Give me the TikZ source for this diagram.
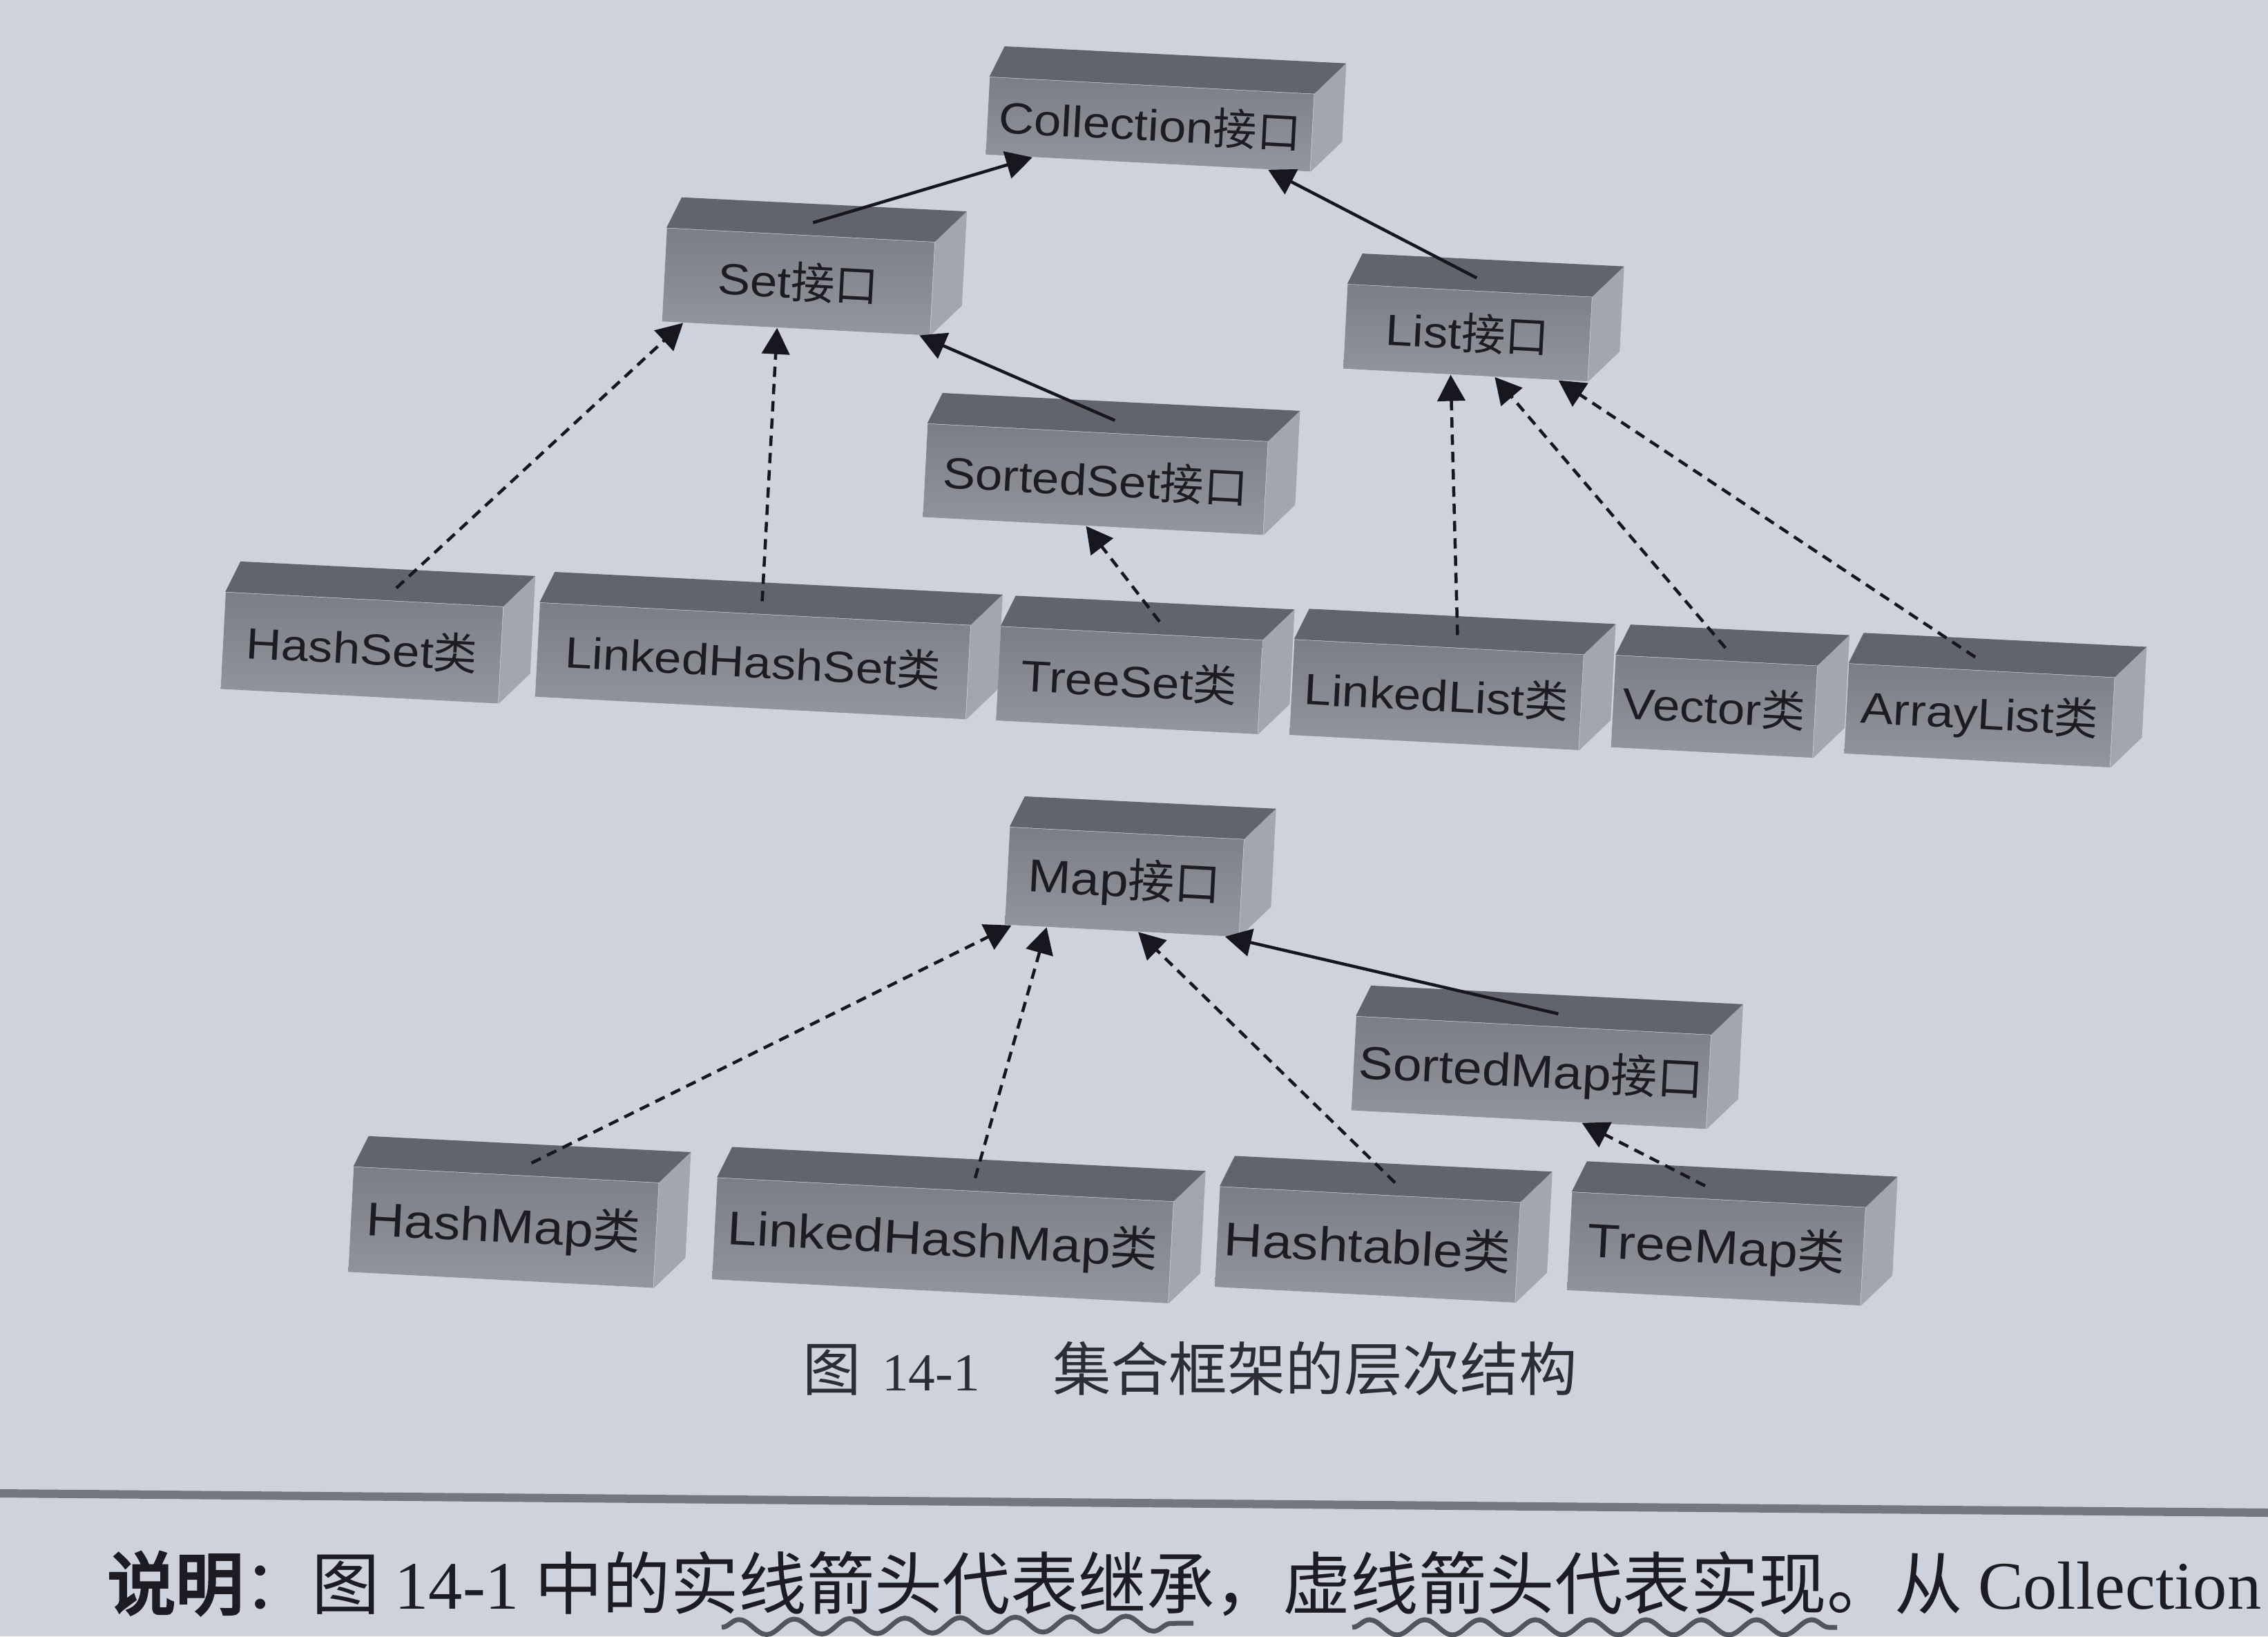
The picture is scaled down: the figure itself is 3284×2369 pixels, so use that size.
\documentclass[tikz,border=0pt]{standalone}
\usepackage{fontspec}
\usetikzlibrary{calc,arrows.meta,decorations.pathmorphing}
\setmainfont{Liberation Sans}
\newfontfamily\boxlat{Liberation Sans}[FakeStretch=1.12]
\newfontfamily\cjk{Noto Sans CJK SC}
\newfontfamily\cjkb{Noto Sans CJK SC}[FakeBold=4]
\newfontfamily\serifx{Liberation Serif}
\definecolor{paper}{RGB}{206,210,221}
\definecolor{frontc}{RGB}{140,142,149}
\definecolor{fronttop}{RGB}{124,126,134}
\definecolor{frontbot}{RGB}{148,150,157}
\definecolor{topc}{RGB}{98,100,108}
\definecolor{sidec}{RGB}{163,166,173}
\definecolor{inkc}{RGB}{28,28,34}
\definecolor{capc}{RGB}{45,46,52}
\definecolor{arrowc}{RGB}{22,22,28}
\definecolor{rulec}{RGB}{115,119,129}
\definecolor{pencil}{RGB}{80,85,95}
\newdimen\pxu \pxu=0.01cm
\def\bdl{22}\def\bdx{46}\def\bdh{44}
\newcommand{\jkou}{{\cjk 接口}}
\newcommand{\leic}{{\cjk 类}}
\newcommand{\boxthree}[7]{%
  \node[front,#6,minimum width=#4\pxu,minimum height=#5\pxu] (#1) at (#2,#3) {#7};
  \fill[topc] (#1.north west) -- ($(#1.north west)+(\bdl,-\bdh)$) -- ($(#1.north east)+(\bdx,-\bdh)$) -- (#1.north east) -- cycle;
  \fill[sidec] (#1.north east) -- ($(#1.north east)+(\bdx,-\bdh)$) -- ($(#1.south east)+(\bdx,-\bdh)$) -- (#1.south east) -- cycle;
}
\newcommand{\linkit}[5]{%
  \draw[#1] ($(#2.north west)!#3!(#2.north east)+(10,-18)$) -- ($(#4.south west)!#5!(#4.south east)$);
}
\tikzset{
  front/.style={top color=fronttop, bottom color=frontbot, rotate=-3, inner sep=0pt, text=inkc, font=\boxlat\fontsize{18pt}{20pt}\selectfont},
  midf/.style={font=\boxlat\fontsize{19pt}{21pt}\selectfont},
  bigf/.style={font=\boxlat\fontsize{19.5pt}{22pt}\selectfont},
  inh/.style={line width=0.045cm, draw=arrowc, -{Triangle[length=0.38cm,width=0.40cm]}},
  impl/.style={inh, dash pattern=on 0.15cm off 0.10cm},
}
\begin{document}
\begin{tikzpicture}[x=0.01cm,y=-0.01cm]
\useasboundingbox (0,0) rectangle (3284,2369);
\fill[paper] (0,0) rectangle (3284,2369);
% boxes
\boxthree{col}{1665}{180}{470}{112}{}{Collection\jkou}
\boxthree{set}{1156}{408}{388}{135}{}{Set\jkou}
\boxthree{list}{2125}{482}{354}{122}{}{List\jkou}
\boxthree{sset}{1586}{694}{493}{135}{}{SortedSet\jkou}
\boxthree{hset}{524}{938}{402}{140}{}{HashSet\leic}
\boxthree{lhset}{1090}{957}{624}{136}{}{LinkedHashSet\leic}
\boxthree{tset}{1635}{985}{379}{136}{}{TreeSet\leic}
\boxthree{llist}{2080}{1006}{419}{138}{}{LinkedList\leic}
\boxthree{vec}{2482}{1023}{292}{133}{}{Vector\leic}
\boxthree{alist}{2866}{1036}{385}{130}{}{ArrayList\leic}
\boxthree{map}{1628}{1277}{339}{141}{midf}{Map\jkou}
\boxthree{smap}{2217}{1553}{514}{136}{midf}{SortedMap\jkou}
\boxthree{hmap}{729}{1777}{442}{152}{bigf}{HashMap\leic}
\boxthree{lhmap}{1365}{1796}{661}{147}{bigf}{LinkedHashMap\leic}
\boxthree{htable}{1980}{1802}{435}{145}{bigf}{Hashtable\leic}
\boxthree{tmap}{2485}{1808}{425}{142}{bigf}{TreeMap\leic}
% connectors
\linkit{inh}{set}{0.52}{col}{0.145}
\linkit{inh}{list}{0.5}{col}{0.87}
\linkit{inh}{sset}{0.53}{set}{0.96}
\linkit{inh}{smap}{0.55}{map}{0.94}
\linkit{impl}{hset}{0.59}{set}{0.08}
\linkit{impl}{lhset}{0.5}{set}{0.43}
\linkit{impl}{tset}{0.58}{sset}{0.48}
\linkit{impl}{llist}{0.54}{list}{0.44}
\linkit{impl}{vec}{0.51}{list}{0.62}
\linkit{impl}{alist}{0.45}{list}{0.88}
\linkit{impl}{hmap}{0.56}{map}{0.03}
\linkit{impl}{lhmap}{0.55}{map}{0.18}
\linkit{impl}{htable}{0.56}{map}{0.57}
\linkit{impl}{tmap}{0.43}{smap}{0.65}
% caption
\node[anchor=west, inner sep=0pt, text=capc, font=\cjk\fontsize{24pt}{27pt}\selectfont] (cap) at (1162,1982)
  {图\hspace{0.3cm}{\serifx\fontsize{22pt}{25pt}\selectfont 14-1}\hspace{1.05cm}集合框架的层次结构};
% page rule
\draw[rulec, line width=0.12cm] (0,2162) -- (3284,2190);
% note line
\node[anchor=west, inner sep=0pt, text=inkc, font=\cjk\fontsize{28pt}{31pt}\selectfont] (note) at (155,2293)
  {{\cjkb 说明}：图 {\serifx 14-1} 中的实线箭头代表继承，虚线箭头代表实现。从 {\serifx Collection}};
% pencil underlines
\draw[pencil, line width=0.07cm, decorate, decoration={snake, amplitude=0.11cm, segment length=0.8cm}] (1045,2356) -- (1728,2350);
\draw[pencil, line width=0.07cm, decorate, decoration={snake, amplitude=0.11cm, segment length=0.8cm}] (1958,2356) -- (2660,2356);
\end{tikzpicture}
\end{document}
